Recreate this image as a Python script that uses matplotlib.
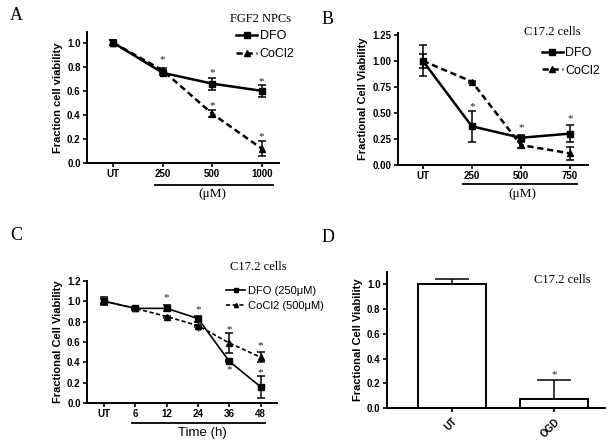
import numpy as np
import matplotlib.pyplot as plt
from matplotlib.lines import Line2D

plt.rcParams['font.family'] = ['Liberation Sans', 'DejaVu Sans']

# Panel A: FGF2 NPCs
a_cats = ['UT', '250', '500', '1000']
a_dfo = [1.0, 0.75, 0.66, 0.60]
a_dfo_err = [0.02, 0.02, 0.05, 0.05]
a_co = [1.0, 0.77, 0.41, 0.12]
a_co_err = [0.02, 0.02, 0.03, 0.06]
a_stars = [(1, 0.86), (2, 0.75), (3, 0.68), (2, 0.48), (3, 0.22)]

# Panel B: C17.2 cells, dose
b_cats = ['UT', '250', '500', '750']
b_dfo = [1.0, 0.37, 0.26, 0.30]
b_dfo_err = [0.15, 0.15, 0.03, 0.08]
b_co = [1.0, 0.80, 0.19, 0.11]
b_co_err = [0.07, 0.01, 0.03, 0.06]
b_stars = [(1, 0.56), (2, 0.36), (3, 0.44)]

# Panel C: C17.2 cells, time
c_cats = ['UT', '6', '12', '24', '36', '48']
c_dfo = [1.0, 0.93, 0.93, 0.83, 0.41, 0.16]
c_dfo_err = [0.04, 0.015, 0.03, 0.03, 0.01, 0.11]
c_co = [1.0, 0.93, 0.85, 0.76, 0.59, 0.45]
c_co_err = [0.02, 0.01, 0.01, 0.01, 0.10, 0.05]
c_stars = [(2, 1.04), (3, 0.92), (3, 0.70), (4, 0.72), (4, 0.33), (5, 0.56), (5, 0.30)]

# Panel D: OGD
d_cats = ['UT', 'OGD']
d_vals = [1.0, 0.07]
d_err = [0.04, 0.16]
d_stars = [(1, 0.27)]

fig = plt.figure(figsize=(6.12, 4.43), dpi=100)
axA = fig.add_axes([0.142, 0.632, 0.314, 0.296])
axB = fig.add_axes([0.650, 0.628, 0.311, 0.298])
axC = fig.add_axes([0.142, 0.090, 0.311, 0.276])
axD = fig.add_axes([0.632, 0.079, 0.357, 0.307])

DASH = (0, (2.5, 1.5))
serif = ['Liberation Serif', 'DejaVu Serif']


def style(ax):
    for s in ['top', 'right']:
        ax.spines[s].set_visible(False)
    for s in ['left', 'bottom']:
        ax.spines[s].set_linewidth(1.4)
    ax.tick_params(width=1.2, length=3, labelsize=7, pad=1.5)
    for lab in ax.get_xticklabels() + ax.get_yticklabels():
        lab.set_fontweight('bold')


def line_panel(ax, cats, dfo, dfo_err, co, co_err, lw, ms):
    x = np.arange(len(cats))
    ax.errorbar(x, dfo, yerr=dfo_err, color='black', lw=lw, marker='s', ms=ms,
                capsize=3, elinewidth=1.1, capthick=1.1, zorder=3)
    ax.errorbar(x, co, yerr=co_err, color='black', lw=lw, ls=DASH,
                marker='^', ms=ms, capsize=3, elinewidth=1.1, capthick=1.1, zorder=3)
    ax.set_xticks(x)
    ax.set_xticklabels(cats)


def add_legend(ax, labels, lw, ms, anchor, fs):
    handles = [Line2D([], [], color='black', lw=lw, marker='s', ms=ms - 1),
               Line2D([], [], color='black', lw=lw, ls=DASH, marker='^', ms=ms - 1)]
    ax.legend(handles, labels, loc='upper left', bbox_to_anchor=anchor, frameon=False,
              fontsize=fs, handlelength=1.7, handletextpad=0.2, labelspacing=0.45,
              borderaxespad=0)


def stars(ax, pts):
    for xi, yi in pts:
        ax.text(xi, yi, '*', ha='center', va='center', fontsize=8,
                family='Liberation Serif', color='#222222')


def underline(ax, x0, x1, y, label, lx, ly, family):
    tr = ax.get_xaxis_transform()
    ax.plot([x0, x1], [y, y], color='black', lw=1.3, transform=tr, clip_on=False)
    ax.text(lx, ly, label, transform=tr, ha='center', va='center', fontsize=9.5,
            family=family)


# A
line_panel(axA, a_cats, a_dfo, a_dfo_err, a_co, a_co_err, 1.8, 5)
axA.set_xlim(-0.53, 3.35)
axA.set_ylim(0, 1.09)
axA.set_yticks(np.arange(0, 1.01, 0.2))
axA.set_yticklabels([f'{v:.1f}' for v in np.arange(0, 1.01, 0.2)])
axA.set_ylabel('Fraction cell viability', fontsize=8, fontweight='bold', labelpad=3)
stars(axA, a_stars)
underline(axA, 0.85, 3.23, -0.165, '(\u03bcM)', 2.0, -0.24, serif)
add_legend(axA, ['DFO', 'CoCl2'], 1.8, 5, (0.75, 1.05), 9)
style(axA)

# B
line_panel(axB, b_cats, b_dfo, b_dfo_err, b_co, b_co_err, 1.8, 5)
axB.set_xlim(-0.51, 3.37)
axB.set_ylim(0, 1.27)
axB.set_yticks(np.arange(0, 1.26, 0.25))
axB.set_yticklabels([f'{v:.2f}' for v in np.arange(0, 1.26, 0.25)])
axB.set_ylabel('Fractional Cell Viability', fontsize=8, fontweight='bold', labelpad=3)
stars(axB, b_stars)
underline(axB, 0.82, 3.14, -0.145, '(\u03bcM)', 2.02, -0.22, serif)
add_legend(axB, ['DFO', 'CoCl2'], 1.8, 5, (0.73, 0.93), 9)
style(axB)

# C
line_panel(axC, c_cats, c_dfo, c_dfo_err, c_co, c_co_err, 1.2, 4)
axC.set_xlim(-0.55, 5.53)
axC.set_ylim(0, 1.2)
axC.set_yticks(np.arange(0, 1.21, 0.2))
axC.set_yticklabels([f'{v:.1f}' for v in np.arange(0, 1.21, 0.2)])
axC.set_ylabel('Fractional Cell Viability', fontsize=8, fontweight='bold', labelpad=3)
stars(axC, c_stars)
underline(axC, 0.89, 5.15, -0.165, 'Time (h)', 3.13, -0.245, ['Liberation Sans', 'DejaVu Sans'])
add_legend(axC, ['DFO (250\u03bcM)', 'CoCl2 (500\u03bcM)'], 1.2, 4, (0.71, 0.995), 8)
style(axC)

# D
xd = np.arange(len(d_cats))
axD.bar(xd, d_vals, width=0.67, color='white', edgecolor='black', lw=1.4, zorder=2)
axD.errorbar(xd, d_vals, yerr=[[0, 0], d_err], fmt='none', ecolor='black',
             elinewidth=1.1, capsize=12.5, capthick=1.1, zorder=1)
axD.set_xticks(xd)
axD.set_xticklabels(d_cats, rotation=45, ha='right', rotation_mode='anchor')
axD.set_xlim(-0.64, 1.5)
axD.set_ylim(0, 1.1)
axD.set_yticks(np.arange(0, 1.01, 0.2))
axD.set_yticklabels([f'{v:.1f}' for v in np.arange(0, 1.01, 0.2)])
axD.set_ylabel('Fractional Cell Viability', fontsize=8, fontweight='bold', labelpad=3)
stars(axD, d_stars)
style(axD)
axD.tick_params(axis='x', pad=3)

# titles and panel letters
fig.text(261 / 612, 1 - 19 / 443, 'FGF2 NPCs', ha='center', va='center', fontsize=9, family=serif)
fig.text(552 / 612, 1 - 32 / 443, 'C17.2 cells', ha='center', va='center', fontsize=9, family=serif)
fig.text(258 / 612, 1 - 267 / 443, 'C17.2 cells', ha='center', va='center', fontsize=9, family=serif)
fig.text(562 / 612, 1 - 280 / 443, 'C17.2 cells', ha='center', va='center', fontsize=9, family=serif)
for letter, px, py in [('A', 16, 15), ('B', 328, 19), ('C', 16, 235), ('D', 328, 238)]:
    fig.text(px / 612, 1 - py / 443, letter, ha='center', va='center', fontsize=13, family=serif)

fig.savefig('out.png', dpi=100)
